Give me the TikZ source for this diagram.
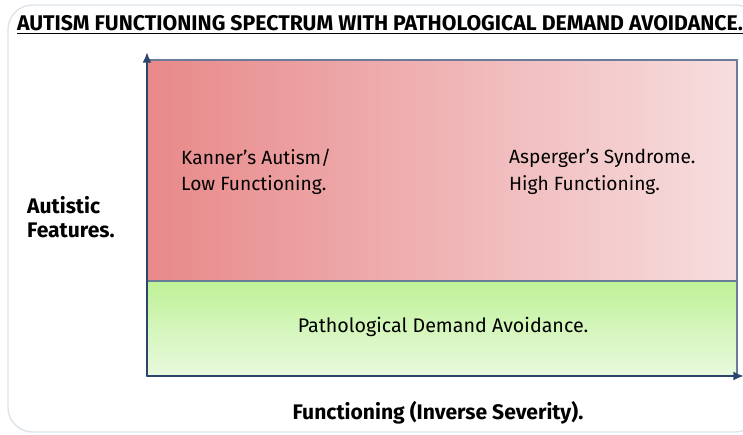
\documentclass[tikz,border=0pt]{standalone}
\usepackage{fontspec}
\setmainfont{Fira Sans}
\usetikzlibrary{positioning,arrows.meta}

\definecolor{axisblue}{HTML}{2B4470}
\definecolor{redleft}{HTML}{E8898A}
\definecolor{redright}{HTML}{F7DEDF}
\definecolor{greentop}{HTML}{BFF297}
\definecolor{greenbot}{HTML}{E9F9DF}
\definecolor{framegray}{HTML}{DCE3EA}

\begin{document}
\begin{tikzpicture}[x=0.02cm,y=-0.02cm,
	label/.style={font=\fontsize{10.9}{15}\selectfont,align=left,anchor=west},
	axislabel/.style={font=\bfseries\fontsize{12}{14}\selectfont,align=left},
	band/.style={draw=axisblue!70,line width=0.6pt},
	axis/.style={draw=axisblue,line width=1.6pt,-{Latex[length=6pt,width=5pt]}}]
	\useasboundingbox (0,0) rectangle (743,435);
	\draw[framegray,line width=0.8pt,rounded corners=14pt] (8,5) rectangle (760,432);
	% the two bands
	\shade[left color=redleft,right color=redright] (147,60) rectangle (737,281);
	\draw[band] (147,60) rectangle (737,281);
	\shade[top color=greentop,bottom color=greenbot] (147,281) rectangle (737,376);
	\draw[band] (147,281) rectangle (737,376);
	% axes
	\coordinate (o) at (147,376);
	\coordinate (ytop) at (147,52);
	\coordinate (xend) at (744,376);
	\draw[axis] (o) -- (ytop);
	\draw[axis] (o) -- (xend);
	% texts
	\node[font=\bfseries\fontsize{12.1}{14}\selectfont,inner sep=0pt] (title) at (380,25)
		{\underline{AUTISM FUNCTIONING SPECTRUM WITH PATHOLOGICAL DEMAND AVOIDANCE.}};
	\node[label] (kanner) at (175,172) {Kanner’s Autism/\\Low Functioning.};
	\node[label] (asperger) at (503,172) {Asperger’s Syndrome.\\High Functioning.};
	\node[font=\fontsize{11.2}{14}\selectfont] (pda) at (443,327) {Pathological Demand Avoidance.};
	\node[axislabel,anchor=west] (yname) at (21,217) {Autistic\\Features.};
	\node[axislabel] (xname) at (438,413) {Functioning (Inverse Severity).};
\end{tikzpicture}
\end{document}
